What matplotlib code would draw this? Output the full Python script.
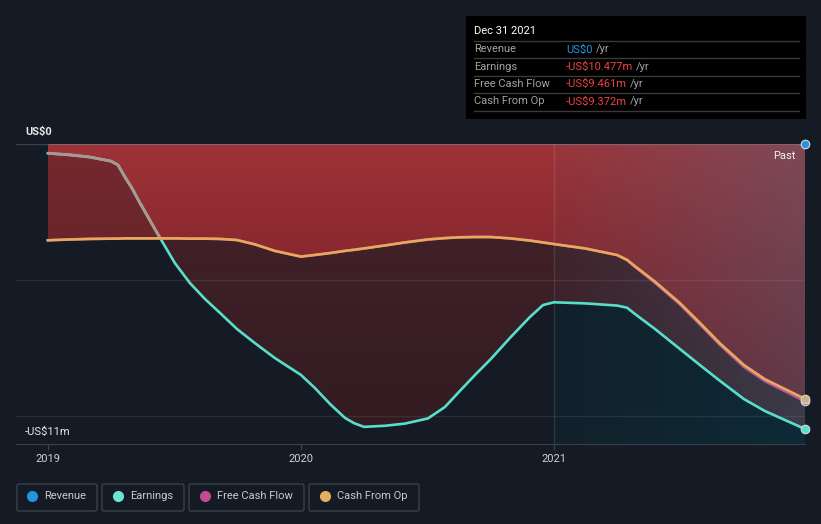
import numpy as np
import matplotlib
matplotlib.use('Agg')
import matplotlib.pyplot as plt
from matplotlib.patches import FancyBboxPatch, Rectangle
from matplotlib.transforms import IdentityTransform
from matplotlib.colors import to_rgb

plt.rcParams['font.family'] = ['Roboto', 'DejaVu Sans']

# values (US$ millions), x in decimal years
years = np.array([2019.000, 2019.087, 2019.166, 2019.249, 2019.277, 2019.304, 2019.332,
                  2019.364, 2019.423, 2019.462, 2019.502, 2019.561, 2019.621, 2019.680,
                  2019.747, 2019.818, 2019.897, 2020.000, 2020.055, 2020.115, 2020.174,
                  2020.209, 2020.249, 2020.332, 2020.411, 2020.502, 2020.569, 2020.628,
                  2020.688, 2020.751, 2020.826, 2020.905, 2020.957, 2021.000, 2021.123,
                  2021.249, 2021.289, 2021.320, 2021.399, 2021.498, 2021.577, 2021.656,
                  2021.751, 2021.834, 2021.913, 2021.992])

earnings = np.array([-0.34, -0.40, -0.48, -0.63, -0.77, -1.21, -1.62,
                     -2.17, -3.13, -3.75, -4.38, -5.11, -5.70, -6.21,
                     -6.80, -7.32, -7.87, -8.49, -8.97, -9.56, -10.07,
                     -10.26, -10.40, -10.36, -10.28, -10.09, -9.67, -9.08,
                     -8.49, -7.90, -7.13, -6.36, -5.92, -5.82, -5.86,
                     -5.94, -6.02, -6.25, -6.80, -7.54, -8.13, -8.71,
                     -9.38, -9.82, -10.15, -10.477])

cash_from_op = np.array([-3.54, -3.51, -3.49, -3.48, -3.48, -3.47, -3.47,
                         -3.47, -3.47, -3.47, -3.47, -3.48, -3.48, -3.49,
                         -3.53, -3.69, -3.93, -4.14, -4.08, -4.01, -3.93,
                         -3.89, -3.84, -3.73, -3.62, -3.51, -3.46, -3.43,
                         -3.42, -3.42, -3.47, -3.55, -3.62, -3.68, -3.84,
                         -4.08, -4.26, -4.49, -5.06, -5.85, -6.58, -7.33,
                         -8.13, -8.65, -9.01, -9.372])

free_cash_flow = np.array([-3.54, -3.51, -3.49, -3.48, -3.48, -3.47, -3.47,
                           -3.47, -3.47, -3.47, -3.47, -3.48, -3.48, -3.49,
                           -3.53, -3.69, -3.93, -4.14, -4.08, -4.01, -3.93,
                           -3.89, -3.84, -3.73, -3.62, -3.51, -3.46, -3.43,
                           -3.42, -3.42, -3.47, -3.55, -3.62, -3.68, -3.84,
                           -4.08, -4.27, -4.52, -5.10, -5.90, -6.64, -7.39,
                           -8.20, -8.72, -9.09, -9.461])

revenue_years = np.array([2019.0, 2019.25, 2019.5, 2019.75, 2020.0, 2020.25, 2020.5,
                          2020.75, 2021.0, 2021.25, 2021.5, 2021.75, 2021.992])
revenue = np.array([0.0, 0.0, 0.0, 0.0, 0.0, 0.0, 0.0, 0.0, 0.0, 0.0, 0.0, 0.0, 0.0])

tick_years = [2019, 2020, 2021]
tick_labels = ['2019', '2020', '2021']
past_start = 2021.0

tooltip_title = 'Dec 31 2021'
tooltip_rows = ['Revenue', 'Earnings', 'Free Cash Flow', 'Cash From Op']
tooltip_values = ['US$0', '-US$10.477m', '-US$9.461m', '-US$9.372m']

legend_names = ['Revenue', 'Earnings', 'Free Cash Flow', 'Cash From Op']

BG = '#151b24'
C_REV = '#2394df'
C_EARN = '#58dfcb'
C_FCF = '#b8559c'
C_CFO = '#e9a95a'

W, H = 821, 524
fig = plt.figure(figsize=(W / 100, H / 100), dpi=100, facecolor=BG)
ax = fig.add_axes([16 / W, 1 - 444 / H, (805 - 16) / W, 300 / H])
ax.set_facecolor(BG)

y_bot = -11.03
x_lo, x_hi = 2018.874, years[-1]


def clip_image(rgba, extent, poly, z):
    im = ax.imshow(rgba, extent=extent, origin='lower', aspect='auto',
                   zorder=z, interpolation='bilinear')
    im.set_clip_path(poly.get_paths()[0], ax.transData)
    return im


def v_gradient(poly, c_top, c_bot, z=1):
    g = np.ones((256, 1, 4))
    t = np.linspace(0, 1, 256)[:, None]
    g[:, 0, :3] = np.array(to_rgb(c_bot)) * (1 - t) + np.array(to_rgb(c_top)) * t
    clip_image(g, [years[0], years[-1], y_bot, 0], poly, z)


def h_gradient(poly, color, a0, a1, z=3):
    g = np.zeros((1, 256, 4))
    g[0, :, :3] = to_rgb(color)
    g[0, :, 3] = np.linspace(a0, a1, 256)
    clip_image(g, [past_start, years[-1], y_bot, 0], poly, z)


# area fills (shapes from data, colour via clipped gradients)
above = earnings >= cash_from_op
top_area = ax.fill_between(years, cash_from_op, 0, facecolor='none', lw=0)
mid_left = ax.fill_between(years, cash_from_op, earnings, where=above,
                           interpolate=True, facecolor='none', lw=0)
mid_right = ax.fill_between(years, earnings, cash_from_op, where=~above,
                            interpolate=True, facecolor='none', lw=0)
v_gradient(top_area, '#9e3338', '#64161f', z=1)
v_gradient(mid_left, '#77292f', '#4a1c22', z=1.1)
v_gradient(mid_right, '#48232b', '#311b21', z=1.1)

# highlighted "past" period overlays
past = years >= past_start
past_top = ax.fill_between(years[past], earnings[past], 0, facecolor='none', lw=0)
past_bot = ax.fill_between(years[past], y_bot, earnings[past], facecolor='none', lw=0)
h_gradient(past_top, '#4a6f8b', 0.05, 0.38)
h_gradient(past_bot, '#0c2c38', 0.35, 0.9)

# grid
ax.axhline(0, color='#3b414c', lw=1, zorder=4)
ax.hlines(0, years[0], years[-1], color='#b36a78', lw=1, alpha=0.7, zorder=4.1)
for gy in [-5, -10]:
    ax.axhline(gy, color='white', alpha=0.08, lw=1, zorder=4)
ax.axvline(past_start, color='white', alpha=0.1, lw=1, zorder=4)

# lines
ax.plot(revenue_years, revenue, color=C_REV, lw=1, alpha=0.0, zorder=5)
ax.plot(years, earnings, color=C_EARN, lw=1.9, zorder=5)
grey, = ax.plot(years, earnings, color='#a8988f', lw=2.1, zorder=5.2)
grey.set_clip_path(top_area.get_paths()[0], ax.transData)
ax.plot(years, free_cash_flow, color=C_FCF, lw=1.9, zorder=5.5)
ax.plot(years, cash_from_op, color=C_CFO, lw=1.9, zorder=6)

# end markers
for xs, ys, c in [(revenue_years, revenue, C_REV), (years, earnings, C_EARN),
                  (years, free_cash_flow, C_FCF), (years, cash_from_op, '#c9b27a')]:
    ax.scatter(xs[-1:], ys[-1:], s=38, color=c, edgecolor='#d8d8e0', lw=0.8,
               zorder=8, clip_on=False)

ax.set_xlim(x_lo, x_hi)
ax.set_ylim(y_bot, 0)
for s in ['top', 'left', 'right']:
    ax.spines[s].set_visible(False)
ax.spines['bottom'].set_color('#3b414c')
ax.set_yticks([])
ax.set_xticks(tick_years)
ax.set_xticklabels(tick_labels)
ax.tick_params(axis='x', colors='#3b414c', labelcolor='#d0d2d6', length=4,
               width=1, labelsize=8, pad=3)

# axis value labels
ax.annotate('US\\$0', xy=(9 / 789, 0), xycoords=('axes fraction', 'data'),
            xytext=(0, 9), textcoords='offset points', color='#e8e8e8',
            fontsize=8, fontweight='bold', va='center', ha='left')
ax.annotate('-US\\$11m', xy=(9 / 789, y_bot), xycoords=('axes fraction', 'data'),
            xytext=(0, 8.5), textcoords='offset points', color='#e8e8e8',
            fontsize=8, va='center', ha='left')
ax.text(0.9885, 0.96, 'Past', transform=ax.transAxes, color='#f0f0f0',
        fontsize=8, ha='right', va='center', zorder=9)

# tooltip box (pixel coordinates)
P = IdentityTransform()


def fy(y):
    return H - y


fig.patches.append(Rectangle((466, fy(119)), 340, 103, transform=P,
                             facecolor='black', edgecolor='none', zorder=1))
fig.text(474, fy(31), tooltip_title, transform=P, color='white', fontsize=8,
         va='center', ha='left')
for sy in [41, 58, 76, 93, 111]:
    fig.lines.append(plt.Line2D([474, 799], [fy(sy), fy(sy)], transform=P,
                                color='#3a3a3a', lw=1))
renderer = fig.canvas.get_renderer()
row_y = [49.5, 66.5, 84, 101.5]
for name, val, ry in zip(tooltip_rows, tooltip_values, row_y):
    fig.text(474, fy(ry), name, transform=P, color='#a3a3a3', fontsize=8,
             va='center', ha='left')
    vc = '#2394df' if not val.startswith('-') else '#f0413f'
    t = fig.text(566, fy(ry), val.replace('$', '\\$'), transform=P, color=vc,
                 fontsize=8, va='center', ha='left')
    x1 = t.get_window_extent(renderer).x1
    fig.text(x1 + 3, fy(ry), '/yr', transform=P, color='#a3a3a3', fontsize=8,
             va='center', ha='left')

# legend boxes
box_x = [(17, 97), (102, 184), (189, 304), (309, 419)]
dot_x = [32, 118, 205, 325]
text_x = [44, 130, 217, 337]
leg_colors = [C_REV, '#6de3d3', '#c24b8f', '#e5ad62']
for name, (bx0, bx1), dx, tx, c in zip(legend_names, box_x, dot_x, text_x, leg_colors):
    fig.patches.append(FancyBboxPatch((bx0, fy(511)), bx1 - bx0, 27, transform=P,
                                      boxstyle='round,pad=0,rounding_size=2',
                                      facecolor='none', edgecolor='#3b414c', lw=1))
    fig.lines.append(plt.Line2D([dx], [fy(496)], transform=P, marker='o',
                                markersize=7, color=c, lw=0))
    fig.text(tx, fy(496), name, transform=P, color='#c8cacd', fontsize=8,
             va='center', ha='left')

fig.savefig('out.png', dpi=100, facecolor=BG)
